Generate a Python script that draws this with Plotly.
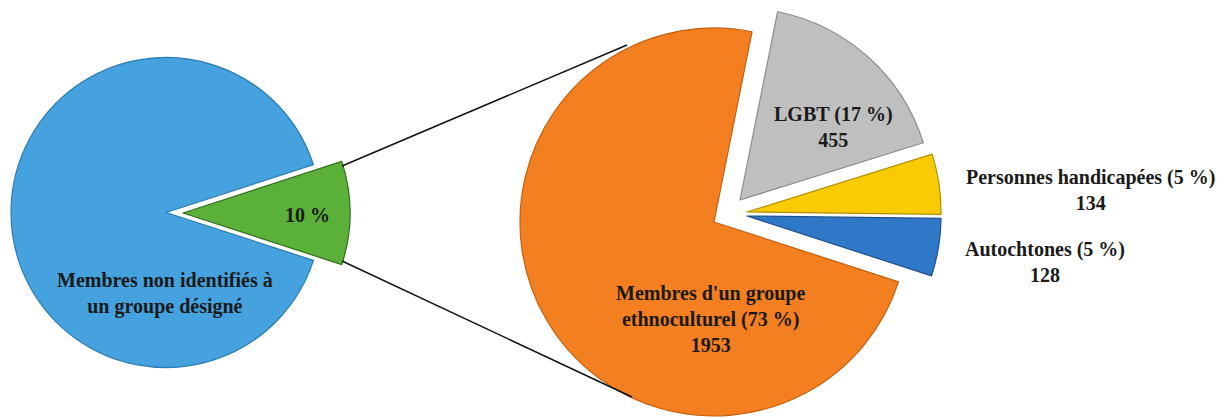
import plotly.graph_objects as go

# ---------------- data ----------------
left_labels = ["Membres de groupes désignés", "Membres non identifiés à un groupe désigné"]
left_values = [10, 90]
left_text = ["10 %", "Membres non identifiés à<br>un groupe désigné"]

right_labels = ["LGBT", "Personnes handicapées", "Autochtones", "Membres d'un groupe ethnoculturel"]
right_counts = [455, 134, 128, 1953]
right_pcts = [17, 5, 5, 73]
right_label_lines = ["LGBT", "Personnes handicapées", "Autochtones", "Membres d'un groupe<br>ethnoculturel"]

# ---------------- styles ----------------
OFF = 8  # default page body margin
W, H = 1227 - OFF, 417 - OFF
TRANSP = "rgba(0,0,0,0)"
left_colors = ["#5bb03a", "#45a2de"]
left_lines = ["#2f6f1c", "#2a7cb5"]
right_colors = ["#bfbfbf", "#f8cb05", "#2f78c8", "#f47f21"]
right_lines = ["#8c8c8c", "#b58f00", "#1d4f8f", "#c3600f"]
FONT = dict(family="Liberation Serif", size=20, color="#1a1a1a")


def fx(x):
    return (x - OFF) / W


def fy(y):
    return 1 - (y - OFF) / H


def dom(cx, cy, r):
    return dict(x=[fx(cx - r), fx(cx + r)], y=[fy(cy + r), fy(cy - r)])


def slice_trace(labels, values, colors, lines, show_idx, cx, cy, r, rotation):
    cols = [c if i == show_idx else TRANSP for i, c in enumerate(colors)]
    lcs = [c if i == show_idx else TRANSP for i, c in enumerate(lines)]
    return go.Pie(
        labels=labels, values=values, sort=False, direction="clockwise",
        rotation=rotation, domain=dom(cx, cy, r),
        marker=dict(colors=cols, line=dict(color=lcs, width=1.2)),
        textinfo="none", hoverinfo="skip", showlegend=False,
    )


fig = go.Figure()

# left pie: blue part, then exploded green part
left_rot = 90 - left_values[0] / sum(left_values) * 360 / 2
fig.add_trace(slice_trace(left_labels, left_values, left_colors, left_lines, 1, 166, 212.5, 155, left_rot))
fig.add_trace(slice_trace(left_labels, left_values, left_colors, left_lines, 0, 183, 213, 167, left_rot))

# right pie: orange, then exploded gray / yellow / blue
right_rot = 11.3
centers = [(740, 200, 192), (747, 212, 194), (747, 216, 194), (714, 222, 194)]
for idx in [3, 0, 1, 2]:
    cx, cy, r = centers[idx]
    fig.add_trace(slice_trace(right_labels, right_counts, right_colors, right_lines, idx, cx, cy, r, right_rot))

# connector lines
for (x0, y0, x1, y1) in [(342, 166, 627, 45), (342, 261, 632, 397)]:
    fig.add_shape(type="line", xref="paper", yref="paper",
                  x0=fx(x0), y0=fy(y0), x1=fx(x1), y1=fy(y1),
                  line=dict(color="#111111", width=1.5))

# labels
ann_pos_left = [(307, 215), (165, 293)]
for t, (x, y) in zip(left_text, ann_pos_left):
    fig.add_annotation(text=f"<b>{t}</b>", x=fx(x), y=fy(y), xref="paper", yref="paper",
                       showarrow=False, font=FONT, xanchor="center", yanchor="middle")

ann_pos_right = [(833, 127), (1090, 190), (1045, 262), (710, 319)]
for lab, pct, cnt, (x, y) in zip(right_label_lines, right_pcts, right_counts, ann_pos_right):
    fig.add_annotation(text=f"<b>{lab} ({pct} %)<br>{cnt}</b>", x=fx(x), y=fy(y),
                       xref="paper", yref="paper", showarrow=False, font=FONT,
                       xanchor="center", yanchor="middle")

fig.update_layout(
    width=W, height=H, margin=dict(l=0, r=0, t=0, b=0),
    paper_bgcolor="white", plot_bgcolor="white", showlegend=False,
)

fig.write_html("out.html")
